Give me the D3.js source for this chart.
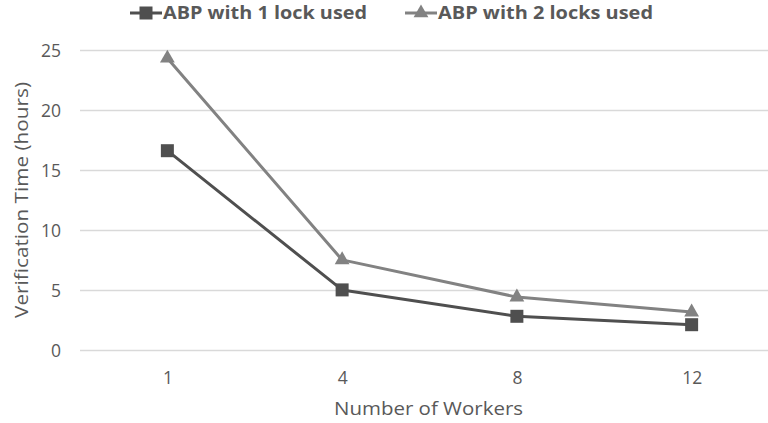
<!DOCTYPE html>
<html>
<head>
<meta charset="utf-8">
<script src="https://cdn.jsdelivr.net/npm/d3@7"></script>
<style>
  html, body { margin: 0; padding: 0; background: #fff; }
  svg { display: block; }
  text { font-family: "Open Sans", Lato, sans-serif; fill: #595959; }
</style>
</head>
<body>
<svg id="chart" width="768" height="423"></svg>
<script>
// Verification time per worker count
const workers = ["1", "4", "8", "12"];
const oneLock = [16.65, 5.05, 2.85, 2.15];
const twoLocks = [24.35, 7.55, 4.45, 3.2];
const yTicks = [0, 5, 10, 15, 20, 25];
const seriesNames = ["ABP with 1 lock used", "ABP with 2 locks used"];

const series = [
  { name: seriesNames[0], values: oneLock, color: "#4f4f4f", marker: "square" },
  { name: seriesNames[1], values: twoLocks, color: "#828282", marker: "triangle" }
];

const svg = d3.select("#chart");
const plotLeft = 80, plotRight = 779, plotTop = 50.5, plotBottom = 350.5;
const font = "'Open Sans', Lato, sans-serif";

const x = d3.scalePoint().domain(workers).range([plotLeft, plotRight]).padding(0.5);
const y = d3.scaleLinear().domain([0, 25]).range([plotBottom, plotTop]);

// horizontal gridlines
svg.append("g").selectAll("line").data(yTicks).join("line")
  .attr("x1", plotLeft).attr("x2", 768)
  .attr("y1", d => y(d)).attr("y2", d => y(d))
  .attr("stroke", "#d9d9d9").attr("stroke-width", 1.3);

// y tick labels
const yAxis = d3.axisLeft(y).tickValues(yTicks).tickSize(0).tickPadding(19);
const gy = svg.append("g").attr("transform", `translate(${plotLeft},0)`).call(yAxis);
gy.select(".domain").remove();
gy.selectAll("text").attr("font-size", 17.5).style("font-family", font).attr("fill", "#595959");

// x tick labels
const xAxis = d3.axisBottom(x).tickSize(0);
const gx = svg.append("g").attr("transform", `translate(0,${plotBottom})`).call(xAxis);
gx.select(".domain").remove();
gx.selectAll("text").attr("font-size", 17.5).style("font-family", font).attr("fill", "#595959")
  .attr("dy", null).attr("y", 33);

// axis titles
svg.append("text").attr("x", 428.5).attr("y", 415)
  .attr("text-anchor", "middle").attr("font-size", 19)
  .attr("textLength", 189).attr("lengthAdjust", "spacingAndGlyphs")
  .text("Number of Workers");
svg.append("text").attr("transform", `translate(28,200) rotate(-90)`)
  .attr("text-anchor", "middle").attr("font-size", 19)
  .attr("textLength", 236).attr("lengthAdjust", "spacingAndGlyphs")
  .text("Verification Time (hours)");

const line = d3.line().x((d, i) => x(workers[i])).y(d => y(d));
const sqSym = d3.symbol(d3.symbolSquare, 169);
const triSym = d3.symbol(d3.symbolTriangle, 95);

function drawMarker(g, type, cx, cy, color) {
  g.append("path")
    .attr("d", type === "square" ? sqSym() : triSym())
    .attr("transform", `translate(${cx},${cy})`)
    .attr("fill", color);
}

// light series first so the dark one sits on top
[series[1], series[0]].forEach(s => {
  const g = svg.append("g");
  g.append("path").datum(s.values).attr("d", line)
    .attr("fill", "none").attr("stroke", s.color).attr("stroke-width", 3)
    .attr("stroke-linejoin", "round");
  s.values.forEach((v, i) => drawMarker(g, s.marker, x(workers[i]), y(v), s.color));
});

// legend
const legendItems = [
  { s: series[0], x0: 130, len: 204 },
  { s: series[1], x0: 405, len: 215 }
];
legendItems.forEach(({ s, x0, len }) => {
  const g = svg.append("g");
  g.append("line").attr("x1", x0).attr("x2", x0 + 32).attr("y1", 13).attr("y2", 13)
    .attr("stroke", s.color).attr("stroke-width", 3);
  drawMarker(g, s.marker, x0 + 16, 13, s.color);
  g.append("text").attr("x", x0 + 33).attr("y", 19)
    .attr("font-size", 18.5).attr("font-weight", "bold")
    .attr("textLength", len).attr("lengthAdjust", "spacingAndGlyphs")
    .text(s.name);
});
</script>
</body>
</html>
